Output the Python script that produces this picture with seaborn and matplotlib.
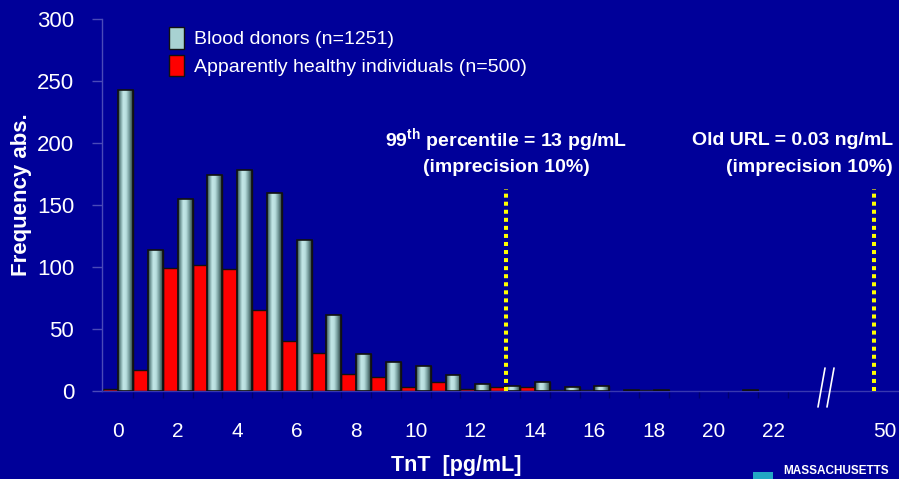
import numpy as np
import pandas as pd
import matplotlib
matplotlib.use("Agg")
import matplotlib.pyplot as plt
import seaborn as sns
from matplotlib.colors import LinearSegmentedColormap
from matplotlib.patches import Patch, Rectangle
from matplotlib.lines import Line2D

# ---------------- data ----------------
tnt_bins = list(range(0, 23))
blood_donors = [243, 114, 155, 174, 178, 160, 122, 61, 30, 23, 20, 13, 6, 4, 7, 3, 4, 1, 1, 0, 0, 1, 0]
healthy = [2, 17, 99, 102, 98, 65, 40, 31, 14, 11, 3, 7, 2, 3, 3, 1, 1, 0, 1, 0, 0, 0, 0]
label_donors = "Blood donors (n=1251)"
label_healthy = "Apparently healthy individuals (n=500)"
x_tick_pos = [0, 2, 4, 6, 8, 10, 12, 14, 16, 18, 20, 22, 25.76]
x_tick_labels = ["0", "2", "4", "6", "8", "10", "12", "14", "16", "18", "20", "22", "50"]
y_ticks = [0, 50, 100, 150, 200, 250, 300]
pct99_pos = 13.03
old_url_pos = 25.39

# ---------------- style ----------------
BG = "#000099"
sns.set_theme(style="white")
plt.rcParams["font.family"] = ["Liberation Sans", "DejaVu Sans"]
plt.rcParams["mathtext.fontset"] = "custom"
plt.rcParams["mathtext.rm"] = "Liberation Sans"
plt.rcParams["mathtext.bf"] = "Liberation Sans:bold"

df = pd.DataFrame({
    "bin": tnt_bins * 2,
    "count": healthy + blood_donors,
    "group": [label_healthy] * len(tnt_bins) + [label_donors] * len(tnt_bins),
})

fig = plt.figure(figsize=(8.99, 4.79), dpi=100, facecolor=BG)
ax = fig.add_axes([102 / 899, 88 / 479, 797 / 899, 372 / 479])
ax.set_facecolor(BG)

sns.barplot(data=df, x="bin", y="count", hue="group", order=tnt_bins,
            hue_order=[label_healthy, label_donors],
            palette=["#ff0000", "#a8d2d2"], saturation=1, width=1.0, dodge=True,
            edgecolor="#111111", linewidth=1.0, legend=False, ax=ax, zorder=2)

# cylinder-like shading on the blood-donor bars
cmap = LinearSegmentedColormap.from_list("cyl", [
    (0.0, "#2c4040"), (0.15, "#6f9696"), (0.35, "#c4e8e8"),
    (0.55, "#b8dede"), (0.8, "#6a9090"), (1.0, "#2c4040")])
grad = np.linspace(0, 1, 64).reshape(1, -1)
for bar in ax.containers[1]:
    h = bar.get_height()
    if h <= 0:
        bar.set_linewidth(0)
        continue
    x0, w = bar.get_x(), bar.get_width()
    im = ax.imshow(grad, extent=[x0, x0 + w, 0, h], aspect="auto", cmap=cmap,
                   zorder=2.5, interpolation="bilinear")
    im.set_clip_path(bar)
    ax.add_patch(Rectangle((x0, 0), w, h, fill=False, edgecolor="#111111",
                           linewidth=1.2, zorder=2.6))
for bar in ax.containers[0]:
    if bar.get_height() <= 0:
        bar.set_linewidth(0)

ax.set_xlim(-0.54, 26.23)
ax.set_ylim(0, 300)
ax.set_xlabel("")
ax.set_ylabel("")

# axes styling
for side in ["top", "right"]:
    ax.spines[side].set_visible(False)
ax.spines["left"].set_color("#4a4ab8")
ax.spines["left"].set_linewidth(1.0)
ax.spines["bottom"].set_color("#3838b0")
ax.spines["bottom"].set_linewidth(1.0)

ax.set_yticks(y_ticks)
ax.set_yticklabels([str(v) for v in y_ticks])
ax.tick_params(axis="y", direction="out", length=7, width=1, color="#4a4ab8",
               labelcolor="white", labelsize=16, pad=13, left=True)
ax.set_xticks(x_tick_pos)
ax.set_xticklabels(x_tick_labels)
ax.tick_params(axis="x", length=0, labelcolor="white", labelsize=15, pad=22)
ax.set_xticks([k + 0.5 for k in range(0, 23)], minor=True)
ax.tick_params(axis="x", which="minor", direction="out", length=5, width=1,
               color="#00006e", bottom=True)
ax.grid(False)

# labels
fig.text(22 / 899, 1 - 195 / 479, "Frequency abs.", rotation=90, ha="center",
         va="center", color="white", fontsize=16, fontweight="bold")
fig.text(456 / 899, 1 - 465 / 479, "TnT  [pg/mL]", ha="center", va="center",
         color="white", fontsize=15.5, fontweight="bold")

# legend
handles = [Patch(facecolor="#a8d2d2", edgecolor="#111111", linewidth=1),
           Patch(facecolor="#ff0000", edgecolor="#111111", linewidth=1)]
leg = ax.legend(handles, [label_donors, label_healthy], loc="upper left",
                bbox_to_anchor=(169 / 899, 1 - 27 / 479), bbox_transform=fig.transFigure,
                frameon=False, fontsize=14, labelcolor="white", handlelength=0.75,
                handleheight=1.35, handletextpad=0.55, labelspacing=0.3,
                borderpad=0, borderaxespad=0)

# reference lines and annotations
for xpos in [pct99_pos, old_url_pos]:
    ax.plot([xpos, xpos], [0, 163], color="#ffff00", linewidth=2.9,
            linestyle=(0, (1, 1)), dash_capstyle="butt", zorder=4, clip_on=False)

ax.text(pct99_pos, 202, r"99$^{\mathbf{th}}$ percentile = 13 pg/mL", ha="center",
        va="center", color="white", fontsize=14, fontweight="bold")
ax.text(pct99_pos, 180, "(imprecision 10%)", ha="center", va="center",
        color="white", fontsize=14, fontweight="bold")
ax.text(26.03, 202, "Old URL = 0.03 ng/mL", ha="right", va="center",
        color="white", fontsize=14, fontweight="bold")
ax.text(26.03, 180, "(imprecision 10%)", ha="right", va="center",
        color="white", fontsize=14, fontweight="bold")

# axis break marks
for (xa, xb) in [(825, 818), (834, 827)]:
    fig.add_artist(Line2D([xa / 899, xb / 899], [1 - 368 / 479, 1 - 407 / 479],
                          color="white", linewidth=1.2, transform=fig.transFigure))

# partial logo at bottom right
fig.add_artist(Rectangle((753 / 899, 0), 20 / 899, 7 / 479, facecolor="#22a6c4",
                         edgecolor="none", transform=fig.transFigure))
fig.text(783 / 899, 1.5 / 479, "MASSACHUSETTS", ha="left", va="bottom",
         color="white", fontsize=8.5, fontweight="bold")

fig.savefig("out.png", dpi=100, facecolor=BG)
